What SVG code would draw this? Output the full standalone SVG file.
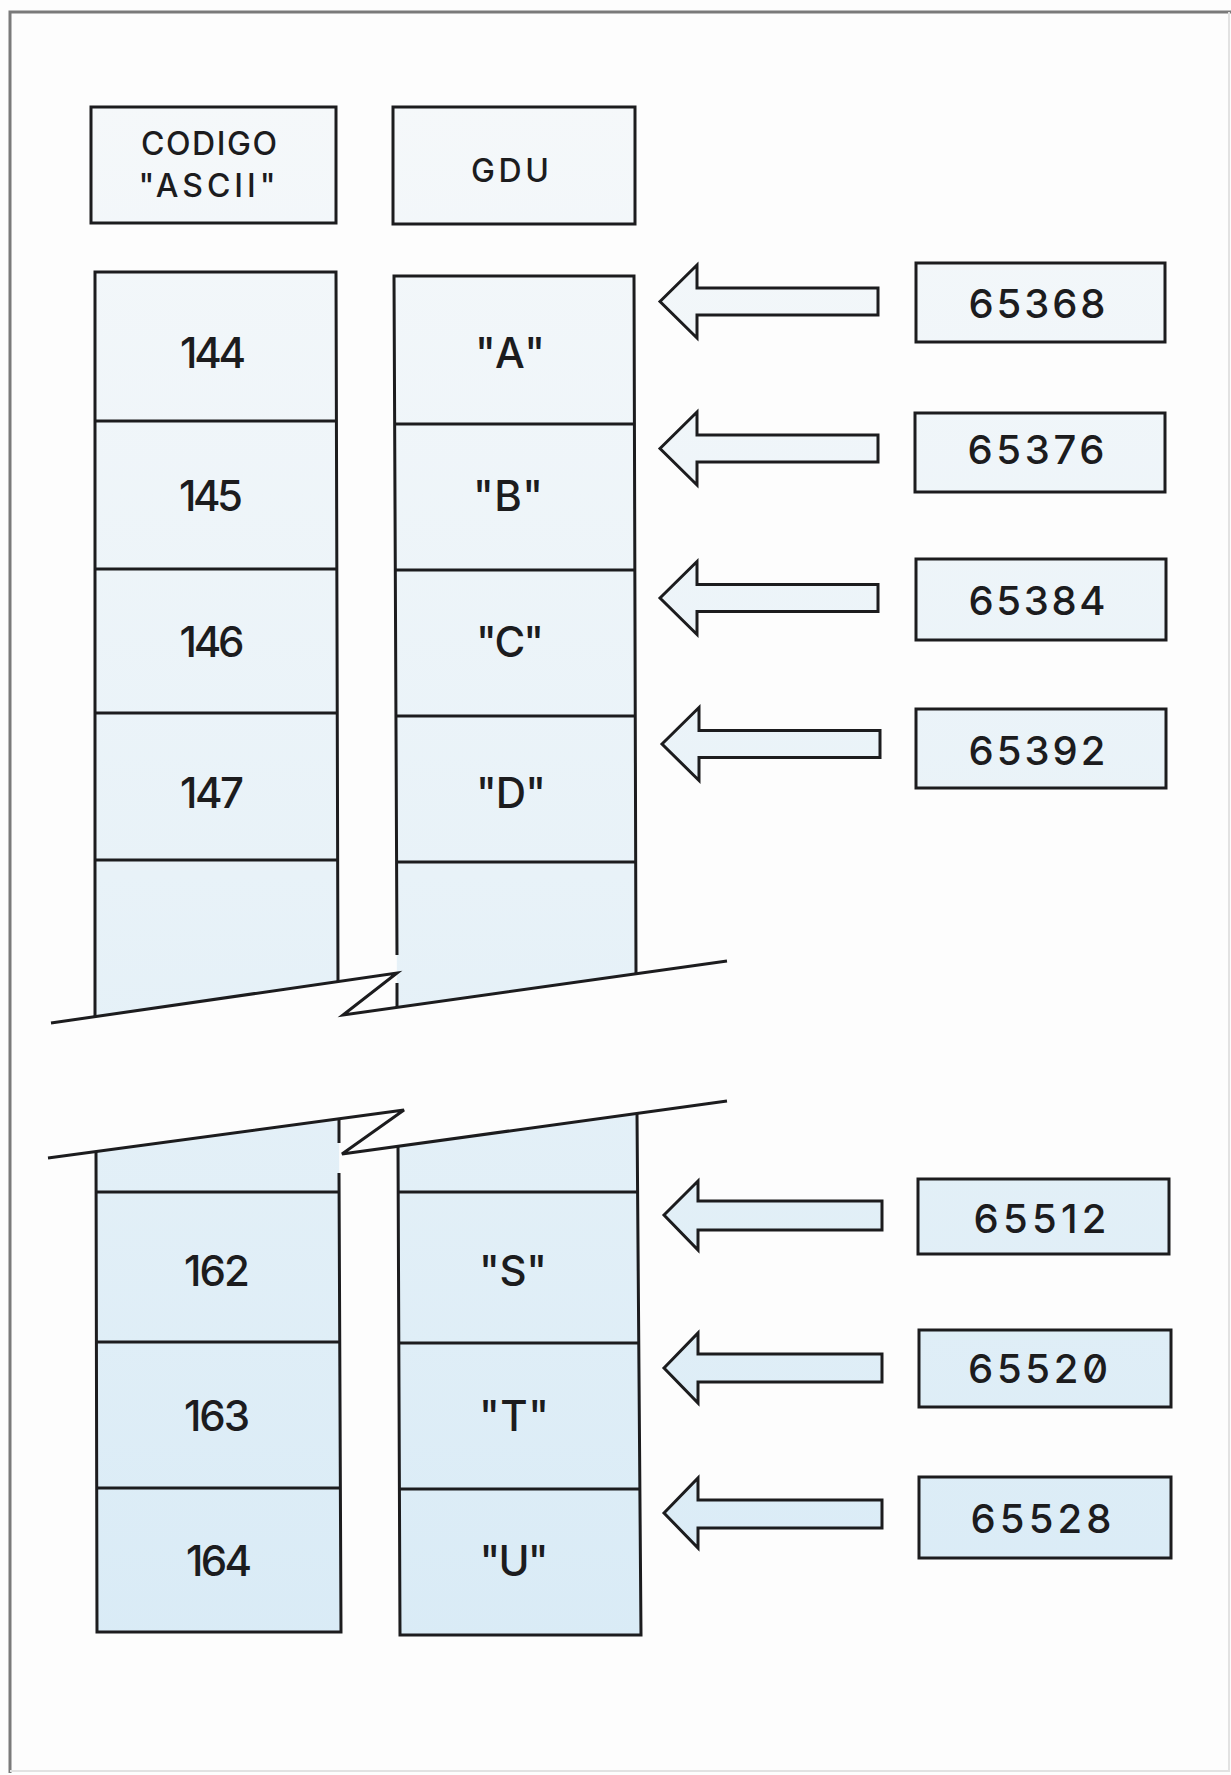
<svg xmlns="http://www.w3.org/2000/svg" width="1231" height="1775" viewBox="0 0 1231 1775">
  <defs>
    <linearGradient id="tint" gradientUnits="userSpaceOnUse" x1="0" y1="100" x2="0" y2="1650">
      <stop offset="0" stop-color="#f5f8fa"/>
      <stop offset="0.5" stop-color="#e8f2f8"/>
      <stop offset="1" stop-color="#d9ebf6"/>
    </linearGradient>
  </defs>
  <style>
    .box { fill: url(#tint); stroke: #1c1c1e; stroke-width: 3; stroke-linejoin: miter; }
    .fillonly { fill: url(#tint); stroke: none; }
    .edge { fill: none; stroke: #1c1c1e; stroke-width: 3; stroke-linejoin: miter; stroke-linecap: butt; }
    .arrow { fill: url(#tint); stroke: #1c1c1e; stroke-width: 3; stroke-linejoin: miter; }
    .frame { fill: none; stroke: #7a7a7a; stroke-width: 3; }
    .frame2 { fill: none; stroke: #e2e2e2; stroke-width: 2; }
    text { font-family: Inter, "Liberation Sans", sans-serif; fill: #1c1c1e; text-anchor: middle; font-weight: 500; }
    .hdr { font-size: 32px; }
    .cell { font-size: 42px; }
    .addr { font-size: 40px; }
  </style>

  <rect x="0" y="0" width="1231" height="1775" fill="#fdfdfd"/>

  <g id="frame">
    <path class="frame" d="M10,1773 L10,12 L1231,12"/>
    <path class="frame2" d="M10,1771 L1229,1771 L1229,12"/>
  </g>

  <g id="header-ascii">
    <rect class="box" x="91" y="107" width="245" height="116"/>
    <text class="hdr" x="209" y="155" textLength="136" lengthAdjust="spacing">CODIGO</text>
    <text class="hdr" x="207" y="197" textLength="137" lengthAdjust="spacing">"ASCII"</text>
  </g>
  <g id="header-gdu">
    <rect class="box" x="393" y="107" width="242" height="117"/>
    <text class="hdr" x="510" y="182" textLength="78" lengthAdjust="spacing">GDU</text>
  </g>

  <g id="column-ascii-upper">
    <polygon class="fillonly" points="95,272 336,272 338,981.5 95,1016.6"/>
    <path class="edge" d="M95,1017 L95,272 L336,272 L338,982"/>
    <path class="edge" d="M95,421 L337,421 M95,569 L337,569 M95,713 L337,713 M95,860 L338,860"/>
  </g>
  <g id="column-gdu-upper">
    <polygon class="fillonly" points="394,276 634,276 636,973.8 397,1007.4"/>
    <path class="edge" d="M397,955 L394,276 L634,276 L636,974"/>
    <path class="edge" d="M397,983 L397,1007"/>
    <path class="edge" d="M394,424 L635,424 M395,570 L635,570 M395,716 L636,716 M396,862 L636,862"/>
  </g>

  <g id="column-ascii-lower">
    <polygon class="fillonly" points="96,1151.5 339,1118.8 341,1632 97,1632"/>
    <path class="edge" d="M96,1151.5 L97,1632 L341,1632 L339,1173"/>
    <path class="edge" d="M339,1119 L339,1143"/>
    <path class="edge" d="M96,1192 L339,1192 M96,1342 L340,1342 M97,1488 L340,1488"/>
  </g>
  <g id="column-gdu-lower">
    <polygon class="fillonly" points="398,1146.3 637,1113.4 641,1635 400,1635"/>
    <path class="edge" d="M398,1146 L400,1635 L641,1635 L637,1113"/>
    <path class="edge" d="M398,1192 L638,1192 M399,1343 L639,1343 M399,1489 L640,1489"/>
  </g>

  <g id="break-lines">
    <polyline class="edge" points="51,1023 397,973 343,1015 727,961"/>
    <polyline class="edge" points="48,1158 404,1110 342,1154 727,1101"/>
  </g>

  <g id="cells-ascii">
    <text class="cell" x="213" y="368" textLength="66" lengthAdjust="spacing">144</text>
    <text class="cell" x="211" y="511" textLength="64" lengthAdjust="spacing">145</text>
    <text class="cell" x="212" y="657" textLength="65" lengthAdjust="spacing">146</text>
    <text class="cell" x="212" y="808" textLength="64" lengthAdjust="spacing">147</text>
    <text class="cell" x="217" y="1286" textLength="66" lengthAdjust="spacing">162</text>
    <text class="cell" x="217" y="1431" textLength="66" lengthAdjust="spacing">163</text>
    <text class="cell" x="219" y="1576" textLength="66" lengthAdjust="spacing">164</text>
  </g>
  <g id="cells-gdu">
    <text class="cell" x="510" y="368" textLength="70" lengthAdjust="spacing">"A"</text>
    <text class="cell" x="508" y="511" textLength="70" lengthAdjust="spacing">"B"</text>
    <text class="cell" x="510" y="657" textLength="68" lengthAdjust="spacing">"C"</text>
    <text class="cell" x="511" y="808" textLength="70" lengthAdjust="spacing">"D"</text>
    <text class="cell" x="513" y="1286" textLength="68" lengthAdjust="spacing">"S"</text>
    <text class="cell" x="514" y="1431" textLength="70" lengthAdjust="spacing">"T"</text>
    <text class="cell" x="514" y="1576" textLength="69" lengthAdjust="spacing">"U"</text>
  </g>

  <g id="addr-65368">
    <rect class="box" x="916" y="263" width="249" height="79"/>
    <text class="addr" x="1037" y="318" textLength="137" lengthAdjust="spacing">65368</text>
  </g>
  <g id="addr-65376">
    <rect class="box" x="915" y="413" width="250" height="79"/>
    <text class="addr" x="1036" y="464" textLength="137" lengthAdjust="spacing">65376</text>
  </g>
  <g id="addr-65384">
    <rect class="box" x="916" y="559" width="250" height="81"/>
    <text class="addr" x="1037" y="615" textLength="137" lengthAdjust="spacing">65384</text>
  </g>
  <g id="addr-65392">
    <rect class="box" x="916" y="709" width="250" height="79"/>
    <text class="addr" x="1037" y="765" textLength="137" lengthAdjust="spacing">65392</text>
  </g>
  <g id="addr-65512">
    <rect class="box" x="918" y="1179" width="251" height="75"/>
    <text class="addr" x="1040" y="1233" textLength="133" lengthAdjust="spacing">65512</text>
  </g>
  <g id="addr-65520">
    <rect class="box" x="919" y="1330" width="252" height="77"/>
    <text class="addr" x="1038" y="1383" textLength="140" lengthAdjust="spacing" style="font-feature-settings:'zero' 1">65520</text>
  </g>
  <g id="addr-65528">
    <rect class="box" x="919" y="1477" width="252" height="81"/>
    <text class="addr" x="1041" y="1533" textLength="141" lengthAdjust="spacing">65528</text>
  </g>

  <g id="connectors">
    <path class="arrow" d="M660,301.5 L697,265 L697,288 L878,288 L878,315 L697,315 L697,338 Z"/>
    <path class="arrow" d="M660,448.5 L697,412 L697,435 L878,435 L878,462 L697,462 L697,485 Z"/>
    <path class="arrow" d="M660,598 L697,561.5 L697,584.5 L878,584.5 L878,611.5 L697,611.5 L697,634.5 Z"/>
    <path class="arrow" d="M662,744 L699,707.5 L699,730.5 L880,730.5 L880,757.5 L699,757.5 L699,780.5 Z"/>
    <path class="arrow" d="M664,1215 L698,1181 L698,1201 L882,1201 L882,1230 L698,1230 L698,1250 Z"/>
    <path class="arrow" d="M664,1368 L698,1333 L698,1354 L882,1354 L882,1382 L698,1382 L698,1403 Z"/>
    <path class="arrow" d="M664,1513 L698,1478 L698,1500 L882,1500 L882,1528 L698,1528 L698,1548 Z"/>
  </g>
</svg>
